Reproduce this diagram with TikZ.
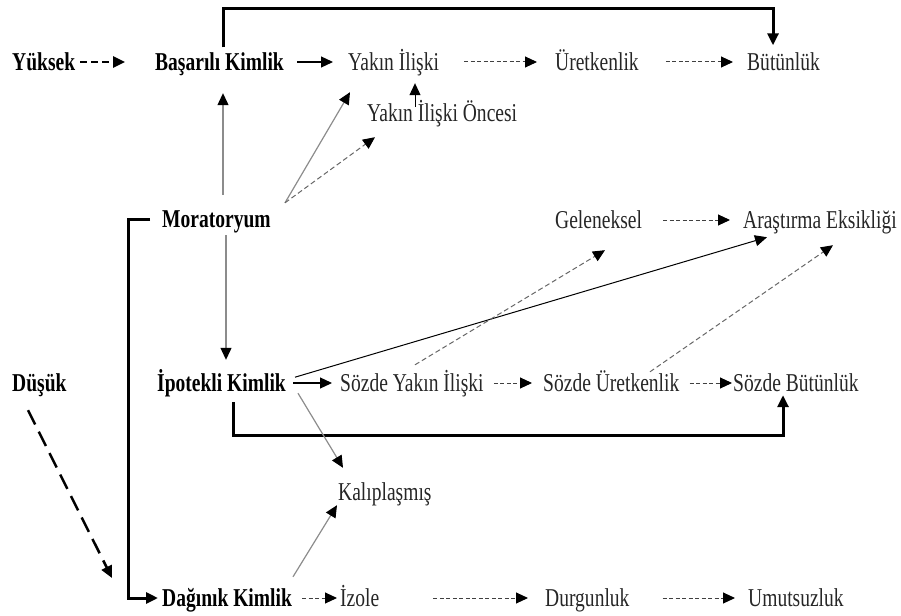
\documentclass[tikz,border=0pt]{standalone}
\usepackage{fontspec}
\setmainfont{Liberation Serif}[FakeStretch=0.76]
\usetikzlibrary{arrows.meta}
\usetikzlibrary{calc}

\begin{document}
\begin{tikzpicture}[x=1pt,y=-1pt,
                    plain node/.style={font=\fontsize{25.7}{28}\selectfont,text=black!85,inner sep=0pt,anchor=west,text height=17pt,text depth=0pt},
                    bold node/.style={plain node,font=\fontsize{25.7}{28}\selectfont\bfseries,text=black},
                    tip/.style={-{Triangle[length=12pt,width=11pt,color=black]}},
                    seq arrow/.style={tip,draw=black!75,line width=1pt,dash pattern=on 4pt off 2.5pt},
                    link arrow/.style={tip,draw=black,line width=1.2pt},
                    gray arrow/.style={tip,draw=black!45,line width=1.2pt},
                    gray dash/.style={tip,draw=black!60,line width=1pt,dash pattern=on 5pt off 3pt},
                    bar arrow/.style={tip,draw=black,line width=3pt}]
\useasboundingbox (0,0) rectangle (901,615);

\node[bold node] (yuksek) at (12,62) {Yüksek};
\node[bold node] (basarili) at (155,62) {Başarılı Kimlik};
\node[plain node] (yakin) at (348,62) {Yakın İlişki};
\node[plain node] (uretken) at (555,62) {Üretkenlik};
\node[plain node] (butun) at (747,62) {Bütünlük};
\node[plain node] (oncesi) at (367,113) {Yakın İlişki Öncesi};
\node[bold node] (mora) at (162,219) {Moratoryum};
\node[plain node] (gelen) at (555,220) {Geleneksel};
\node[plain node] (arastirma) at (743,220) {Araştırma Eksikliği};
\node[bold node] (dusuk) at (12,383) {Düşük};
\node[bold node] (ipotekli) at (157,383) {İpotekli Kimlik};
\node[plain node] (syakin) at (340,383) {Sözde Yakın İlişki};
\node[plain node] (suret) at (543,383) {Sözde Üretkenlik};
\node[plain node] (sbutun) at (733,383) {Sözde Bütünlük};
\node[plain node] (kalip) at (338,492) {Kalıplaşmış};
\node[bold node] (daginik) at (162,598) {Dağınık Kimlik};
\node[plain node] (izole) at (340,598) {İzole};
\node[plain node] (durgun) at (545,598) {Durgunluk};
\node[plain node] (umut) at (748,598) {Umutsuzluk};

\coordinate (topbar) at (500,9);
\coordinate (botbar) at (500,435);
\coordinate (leftbar) at (128,0);

% rows
\path[tip,line width=2.5pt,dash pattern=on 7pt off 4pt]
  (yuksek) edge[shorten <=5pt,shorten >=30pt] (basarili);
\path[link arrow]
  (basarili) edge[shorten <=13pt,shorten >=15pt] (yakin)
  (ipotekli) edge[shorten <=7pt,shorten >=8pt] (syakin);
\path[seq arrow]
  (yakin) edge[shorten <=25pt,shorten >=18pt] (uretken)
  (uretken) edge[shorten <=27pt,shorten >=14pt] (butun)
  (gelen) edge[shorten <=21pt,shorten >=13pt] (arastirma)
  (syakin) edge[shorten <=10pt,shorten >=11pt] (suret)
  (suret) edge[shorten <=10pt,shorten >=1pt] (sbutun)
  (daginik) edge[shorten <=10pt,shorten >=3pt] (izole)
  (izole) edge[shorten <=54pt,shorten >=17pt] (durgun)
  (durgun) edge[shorten <=33pt,shorten >=13pt] (umut);

% brackets
\draw[bar arrow] ([shift={(68,-6)}]basarili.north west) |- (topbar) -| ([shift={(26,-8)}]butun.north west);
\draw[bar arrow] ([shift={(76,10.5)}]ipotekli.south west) |- (botbar) -| ([shift={(50,3.5)}]sbutun.south west);
\draw[bar arrow] ([shift={(-12,0)}]mora.west) -| (leftbar |- daginik.west) -- ([shift={(-4,0)}]daginik.west);

% from Moratoryum
\draw[gray arrow] ([shift={(61,-15.5)}]mora.north west) -- ([shift={(68,22.5)}]basarili.south west);
\draw[gray arrow] ([shift={(123,-7.5)}]mora.north west) -- ([shift={(2,21.5)}]yakin.south west);
\draw[gray dash] ([shift={(123,-7.5)}]mora.north west) -- ([shift={(8,15.5)}]oncesi.south west);
\draw[gray arrow] ([shift={(64,7.5)}]mora.south west) -- ([shift={(69,-14.5)}]ipotekli.north west);
\draw[link arrow,line width=1pt] ([shift={(48,2.5)}]oncesi.north west) -- ([shift={(67,12.5)}]yakin.south west);

% crossing lines
\draw[link arrow,line width=1pt] ([shift={(138,-14.5)}]ipotekli.south west) -- ([shift={(24,8.5)}]arastirma.south west);
\draw[gray dash] ([shift={(75,-9.5)}]syakin.north west) -- ([shift={(50,21.5)}]gelen.south west);
\draw[gray dash] ([shift={(107,-2.5)}]suret.north west) -- ([shift={(90,16.5)}]arastirma.south west);

% to Kalıplaşmış
\draw[gray arrow] ([shift={(141,1.5)}]ipotekli.south west) -- ([shift={(5,-15.5)}]kalip.north west);
\draw[gray arrow] ([shift={(131,-12.5)}]daginik.north west) -- ([shift={(-1,4.5)}]kalip.south west);

\draw[tip,line width=2.5pt,dash pattern=on 16pt off 8pt] ([shift={(16,18.5)}]dusuk.south west) -- ([shift={(-50,-20)}]daginik.west);

\end{tikzpicture}
\end{document}
